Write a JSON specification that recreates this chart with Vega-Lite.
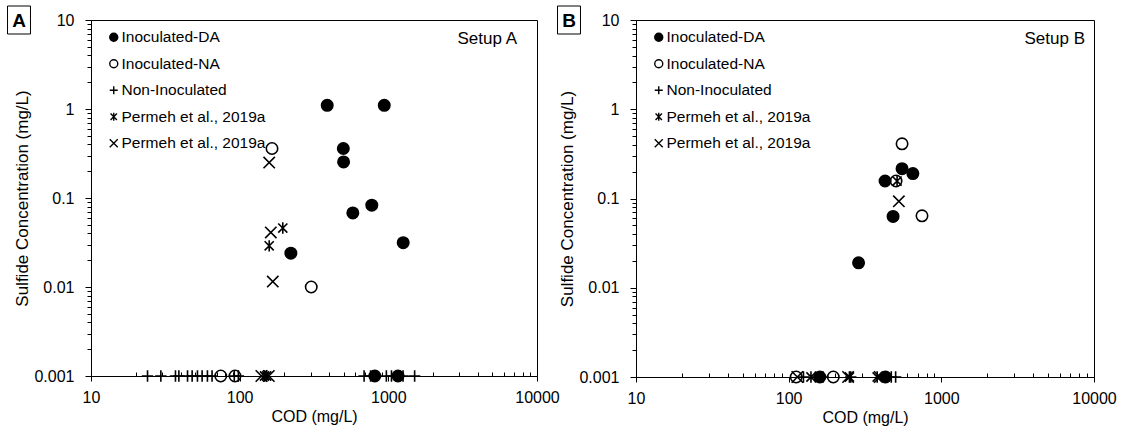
{
"$schema": "https://vega.github.io/schema/vega-lite/v6.json",
"background": "white",
"padding": {"left": 5, "top": 3, "right": 5, "bottom": 5},
"config": {
  "font": "Liberation Sans",
  "view": {"stroke": "black", "strokeWidth": 1},
  "axis": {"grid": false, "domainColor": "black", "tickColor": "black", "labelColor": "black", "titleColor": "black", "labelFont": "Liberation Sans", "titleFont": "Liberation Sans", "labelFontSize": 16, "titleFontSize": 16, "titleFontWeight": "normal", "labelOverlap": false, "labelFlush": false},
  "axisY": {"titleFontSize": 17},
  "legend": {"orient": "none", "title": null, "padding": 0, "symbolSize": 64, "symbolStrokeWidth": 1.4, "labelFont": "Liberation Sans", "labelFontSize": 15.5, "labelColor": "black", "rowPadding": 9.5, "labelOffset": 0, "labelLimit": 300},
  "text": {"font": "Liberation Sans", "color": "black"}
},
"datasets": {
  "pts": [
    {"panel": "A", "series": "Inoculated-DA", "cod": 388, "sulfide": 1.1},
    {"panel": "A", "series": "Inoculated-DA", "cod": 939, "sulfide": 1.1},
    {"panel": "A", "series": "Inoculated-DA", "cod": 498, "sulfide": 0.36},
    {"panel": "A", "series": "Inoculated-DA", "cod": 500, "sulfide": 0.254},
    {"panel": "A", "series": "Inoculated-DA", "cod": 774, "sulfide": 0.083},
    {"panel": "A", "series": "Inoculated-DA", "cod": 577, "sulfide": 0.068},
    {"panel": "A", "series": "Inoculated-DA", "cod": 221, "sulfide": 0.024},
    {"panel": "A", "series": "Inoculated-DA", "cod": 1259, "sulfide": 0.0315},
    {"panel": "A", "series": "Inoculated-DA", "cod": 811, "sulfide": 0.001},
    {"panel": "A", "series": "Inoculated-DA", "cod": 1161, "sulfide": 0.001},
    {"panel": "A", "series": "Inoculated-NA", "cod": 165, "sulfide": 0.36},
    {"panel": "A", "series": "Inoculated-NA", "cod": 303, "sulfide": 0.01},
    {"panel": "A", "series": "Inoculated-NA", "cod": 74.6, "sulfide": 0.001},
    {"panel": "A", "series": "Inoculated-NA", "cod": 93, "sulfide": 0.001},
    {"panel": "A", "series": "Non-Inoculated", "cod": 24, "sulfide": 0.001},
    {"panel": "A", "series": "Non-Inoculated", "cod": 29.5, "sulfide": 0.001},
    {"panel": "A", "series": "Non-Inoculated", "cod": 37, "sulfide": 0.001},
    {"panel": "A", "series": "Non-Inoculated", "cod": 39, "sulfide": 0.001},
    {"panel": "A", "series": "Non-Inoculated", "cod": 44.6, "sulfide": 0.001},
    {"panel": "A", "series": "Non-Inoculated", "cod": 47.9, "sulfide": 0.001},
    {"panel": "A", "series": "Non-Inoculated", "cod": 52, "sulfide": 0.001},
    {"panel": "A", "series": "Non-Inoculated", "cod": 55.9, "sulfide": 0.001},
    {"panel": "A", "series": "Non-Inoculated", "cod": 60.7, "sulfide": 0.001},
    {"panel": "A", "series": "Non-Inoculated", "cod": 65.2, "sulfide": 0.001},
    {"panel": "A", "series": "Non-Inoculated", "cod": 92, "sulfide": 0.001},
    {"panel": "A", "series": "Non-Inoculated", "cod": 98, "sulfide": 0.001},
    {"panel": "A", "series": "Non-Inoculated", "cod": 687, "sulfide": 0.001},
    {"panel": "A", "series": "Non-Inoculated", "cod": 760, "sulfide": 0.001},
    {"panel": "A", "series": "Non-Inoculated", "cod": 970, "sulfide": 0.001},
    {"panel": "A", "series": "Non-Inoculated", "cod": 1050, "sulfide": 0.001},
    {"panel": "A", "series": "Non-Inoculated", "cod": 1256, "sulfide": 0.001},
    {"panel": "A", "series": "Non-Inoculated", "cod": 1503, "sulfide": 0.001},
    {"panel": "A", "series": "Permeh et al., 2019a", "cod": 195, "sulfide": 0.046},
    {"panel": "A", "series": "Permeh et al., 2019a", "cod": 158, "sulfide": 0.029},
    {"panel": "A", "series": "Permeh et al., 2019a", "cod": 147, "sulfide": 0.001},
    {"panel": "A", "series": "Permeh et al., 2019a", "cod": 152, "sulfide": 0.001},
    {"panel": "A", "series": "Permeh et al., 2019a (X)", "cod": 158, "sulfide": 0.25},
    {"panel": "A", "series": "Permeh et al., 2019a (X)", "cod": 162, "sulfide": 0.041},
    {"panel": "A", "series": "Permeh et al., 2019a (X)", "cod": 167, "sulfide": 0.0115},
    {"panel": "A", "series": "Permeh et al., 2019a (X)", "cod": 140, "sulfide": 0.001},
    {"panel": "A", "series": "Permeh et al., 2019a (X)", "cod": 157, "sulfide": 0.001},
    {"panel": "B", "series": "Inoculated-DA", "cod": 553, "sulfide": 0.216},
    {"panel": "B", "series": "Inoculated-DA", "cod": 651, "sulfide": 0.19},
    {"panel": "B", "series": "Inoculated-DA", "cod": 428, "sulfide": 0.157},
    {"panel": "B", "series": "Inoculated-DA", "cod": 483, "sulfide": 0.063},
    {"panel": "B", "series": "Inoculated-DA", "cod": 287, "sulfide": 0.019},
    {"panel": "B", "series": "Inoculated-DA", "cod": 160, "sulfide": 0.001},
    {"panel": "B", "series": "Inoculated-DA", "cod": 431, "sulfide": 0.001},
    {"panel": "B", "series": "Inoculated-NA", "cod": 553, "sulfide": 0.41},
    {"panel": "B", "series": "Inoculated-NA", "cod": 505, "sulfide": 0.157},
    {"panel": "B", "series": "Inoculated-NA", "cod": 747, "sulfide": 0.064},
    {"panel": "B", "series": "Inoculated-NA", "cod": 112, "sulfide": 0.001},
    {"panel": "B", "series": "Inoculated-NA", "cod": 196, "sulfide": 0.001},
    {"panel": "B", "series": "Non-Inoculated", "cod": 125, "sulfide": 0.001},
    {"panel": "B", "series": "Non-Inoculated", "cod": 150, "sulfide": 0.001},
    {"panel": "B", "series": "Non-Inoculated", "cod": 168, "sulfide": 0.001},
    {"panel": "B", "series": "Non-Inoculated", "cod": 255, "sulfide": 0.001},
    {"panel": "B", "series": "Non-Inoculated", "cod": 410, "sulfide": 0.001},
    {"panel": "B", "series": "Non-Inoculated", "cod": 470, "sulfide": 0.001},
    {"panel": "B", "series": "Non-Inoculated", "cod": 502, "sulfide": 0.001},
    {"panel": "B", "series": "Permeh et al., 2019a", "cod": 513, "sulfide": 0.157},
    {"panel": "B", "series": "Permeh et al., 2019a", "cod": 140, "sulfide": 0.001},
    {"panel": "B", "series": "Permeh et al., 2019a", "cod": 250, "sulfide": 0.001},
    {"panel": "B", "series": "Permeh et al., 2019a", "cod": 380, "sulfide": 0.001},
    {"panel": "B", "series": "Permeh et al., 2019a (X)", "cod": 527, "sulfide": 0.093},
    {"panel": "B", "series": "Permeh et al., 2019a (X)", "cod": 114, "sulfide": 0.001},
    {"panel": "B", "series": "Permeh et al., 2019a (X)", "cod": 245, "sulfide": 0.001},
    {"panel": "B", "series": "Permeh et al., 2019a (X)", "cod": 395, "sulfide": 0.001}
  ],
  "tags": [
    {"panel": "A", "setup": "Setup A", "tag": "A"},
    {"panel": "B", "setup": "Setup B", "tag": "B"}
  ]
},
"bounds": "flush",
"spacing": 99,
"resolve": {"scale": {"x": "independent", "y": "independent", "shape": "independent", "fill": "independent", "stroke": "independent"}, "legend": {"shape": "independent", "fill": "independent", "stroke": "independent"}},
"hconcat": [
  {
    "width": 446, "height": 356,
    "layer": [
      {
        "data": {"name": "pts"},
        "transform": [{"filter": "datum.panel == 'A'"}],
        "mark": {"type": "point", "filled": false, "strokeWidth": 1.6, "size": 130, "opacity": 1},
        "encoding": {
          "x": {"field": "cod", "type": "quantitative", "title": "COD (mg/L)",
            "scale": {"type": "log", "domain": [10, 10000], "nice": false},
            "axis": {"values": [10,20,30,40,50,60,70,80,90,100,200,300,400,500,600,700,800,900,1000,2000,3000,4000,5000,6000,7000,8000,9000,10000],
              "format": "~g", "labelExpr": "indexof([10,100,1000,10000], datum.value) >= 0 ? datum.label : ''",
              "tickSize": {"condition": {"test": "indexof([10,100,1000,10000], datum.value) >= 0", "value": 5}, "value": -4},
              "labelPadding": 8, "titlePadding": 3}},
          "y": {"field": "sulfide", "type": "quantitative", "title": "Sulfide Concentration (mg/L)",
            "scale": {"type": "log", "domain": [0.001, 10], "nice": false},
            "axis": {"values": [0.001,0.002,0.003,0.004,0.005,0.006,0.007,0.008,0.009,0.01,0.02,0.03,0.04,0.05,0.06,0.07,0.08,0.09,0.1,0.2,0.3,0.4,0.5,0.6,0.7,0.8,0.9,1,2,3,4,5,6,7,8,9,10],
              "format": "~g", "labelExpr": "indexof([0.001,0.01,0.1,1,10], datum.value) >= 0 ? datum.label : ''",
              "tickSize": {"condition": {"test": "indexof([0.001,0.01,0.1,1,10], datum.value) >= 0", "value": 6}, "value": 4},
              "labelPadding": 11, "titlePadding": 2}},
          "shape": {"field": "series", "type": "nominal",
            "scale": {"domain": ["Inoculated-DA", "Inoculated-NA", "Non-Inoculated", "Permeh et al., 2019a", "Permeh et al., 2019a (X)"],
              "range": ["circle", "circle", "M-1,0L1,0M0,-1L0,1", "M-0.8,-0.8L0.8,0.8M-0.8,0.8L0.8,-0.8M0,-1L0,1", "M-1,-1L1,1M-1,1L1,-1"]},
            "legend": {"legendX": 15, "legendY": 9.5, "labelExpr": "replace(datum.label, ' (X)', '')"}},
          "fill": {"field": "series", "type": "nominal",
            "scale": {"domain": ["Inoculated-DA", "Inoculated-NA", "Non-Inoculated", "Permeh et al., 2019a", "Permeh et al., 2019a (X)"],
              "range": ["black", "transparent", "transparent", "transparent", "transparent"]},
            "legend": {"legendX": 15, "legendY": 9.5, "labelExpr": "replace(datum.label, ' (X)', '')"}},
          "stroke": {"field": "series", "type": "nominal",
            "scale": {"domain": ["Inoculated-DA", "Inoculated-NA", "Non-Inoculated", "Permeh et al., 2019a", "Permeh et al., 2019a (X)"],
              "range": ["black", "black", "black", "black", "black"]},
            "legend": {"legendX": 15, "legendY": 9.5, "labelExpr": "replace(datum.label, ' (X)', '')"}}
        }
      },
      {
        "data": {"name": "tags"},
        "transform": [{"filter": "datum.panel == 'A'"}],
        "mark": {"type": "text", "align": "right", "baseline": "alphabetic", "dx": -20, "dy": 23.5, "fontSize": 17},
        "encoding": {"x": {"datum": 10000, "type": "quantitative"}, "y": {"datum": 10, "type": "quantitative"}, "text": {"field": "setup"}}
      },
      {
        "data": {"name": "tags"},
        "transform": [{"filter": "datum.panel == 'A'"}],
        "mark": {"type": "point", "shape": "M-0.82,-1L0.82,-1L0.82,1L-0.82,1Z", "size": 784, "filled": false, "stroke": "black", "strokeWidth": 1, "opacity": 1, "xOffset": -72, "yOffset": 0},
        "encoding": {"x": {"datum": 10, "type": "quantitative"}, "y": {"datum": 10, "type": "quantitative"}}
      },
      {
        "data": {"name": "tags"},
        "transform": [{"filter": "datum.panel == 'A'"}],
        "mark": {"type": "text", "align": "center", "baseline": "middle", "dx": -72, "dy": 1, "fontSize": 19, "fontWeight": "bold"},
        "encoding": {"x": {"datum": 10, "type": "quantitative"}, "y": {"datum": 10, "type": "quantitative"}, "text": {"field": "tag"}}
      }
    ]
  },
  {
    "width": 458, "height": 357,
    "layer": [
      {
        "data": {"name": "pts"},
        "transform": [{"filter": "datum.panel == 'B'"}],
        "mark": {"type": "point", "filled": false, "strokeWidth": 1.6, "size": 130, "opacity": 1},
        "encoding": {
          "x": {"field": "cod", "type": "quantitative", "title": "COD (mg/L)",
            "scale": {"type": "log", "domain": [10, 10000], "nice": false},
            "axis": {"values": [10,20,30,40,50,60,70,80,90,100,200,300,400,500,600,700,800,900,1000,2000,3000,4000,5000,6000,7000,8000,9000,10000],
              "format": "~g", "labelExpr": "indexof([10,100,1000,10000], datum.value) >= 0 ? datum.label : ''",
              "tickSize": {"condition": {"test": "indexof([10,100,1000,10000], datum.value) >= 0", "value": 5}, "value": -4},
              "labelPadding": 8, "titlePadding": 3}},
          "y": {"field": "sulfide", "type": "quantitative", "title": "Sulfide Concentration (mg/L)",
            "scale": {"type": "log", "domain": [0.001, 10], "nice": false},
            "axis": {"values": [0.001,0.002,0.003,0.004,0.005,0.006,0.007,0.008,0.009,0.01,0.02,0.03,0.04,0.05,0.06,0.07,0.08,0.09,0.1,0.2,0.3,0.4,0.5,0.6,0.7,0.8,0.9,1,2,3,4,5,6,7,8,9,10],
              "format": "~g", "labelExpr": "indexof([0.001,0.01,0.1,1,10], datum.value) >= 0 ? datum.label : ''",
              "tickSize": {"condition": {"test": "indexof([0.001,0.01,0.1,1,10], datum.value) >= 0", "value": 6}, "value": 4},
              "labelPadding": 11, "titlePadding": 2}},
          "shape": {"field": "series", "type": "nominal",
            "scale": {"domain": ["Inoculated-DA", "Inoculated-NA", "Non-Inoculated", "Permeh et al., 2019a", "Permeh et al., 2019a (X)"],
              "range": ["circle", "circle", "M-1,0L1,0M0,-1L0,1", "M-0.8,-0.8L0.8,0.8M-0.8,0.8L0.8,-0.8M0,-1L0,1", "M-1,-1L1,1M-1,1L1,-1"]},
            "legend": {"legendX": 15, "legendY": 9.5, "labelExpr": "replace(datum.label, ' (X)', '')"}},
          "fill": {"field": "series", "type": "nominal",
            "scale": {"domain": ["Inoculated-DA", "Inoculated-NA", "Non-Inoculated", "Permeh et al., 2019a", "Permeh et al., 2019a (X)"],
              "range": ["black", "transparent", "transparent", "transparent", "transparent"]},
            "legend": {"legendX": 15, "legendY": 9.5, "labelExpr": "replace(datum.label, ' (X)', '')"}},
          "stroke": {"field": "series", "type": "nominal",
            "scale": {"domain": ["Inoculated-DA", "Inoculated-NA", "Non-Inoculated", "Permeh et al., 2019a", "Permeh et al., 2019a (X)"],
              "range": ["black", "black", "black", "black", "black"]},
            "legend": {"legendX": 15, "legendY": 9.5, "labelExpr": "replace(datum.label, ' (X)', '')"}}
        }
      },
      {
        "data": {"name": "tags"},
        "transform": [{"filter": "datum.panel == 'B'"}],
        "mark": {"type": "text", "align": "right", "baseline": "alphabetic", "dx": -9, "dy": 23.5, "fontSize": 17},
        "encoding": {"x": {"datum": 10000, "type": "quantitative"}, "y": {"datum": 10, "type": "quantitative"}, "text": {"field": "setup"}}
      },
      {
        "data": {"name": "tags"},
        "transform": [{"filter": "datum.panel == 'B'"}],
        "mark": {"type": "point", "shape": "M-0.82,-1L0.82,-1L0.82,1L-0.82,1Z", "size": 784, "filled": false, "stroke": "black", "strokeWidth": 1, "opacity": 1, "xOffset": -67, "yOffset": 0},
        "encoding": {"x": {"datum": 10, "type": "quantitative"}, "y": {"datum": 10, "type": "quantitative"}}
      },
      {
        "data": {"name": "tags"},
        "transform": [{"filter": "datum.panel == 'B'"}],
        "mark": {"type": "text", "align": "center", "baseline": "middle", "dx": -67, "dy": 1, "fontSize": 19, "fontWeight": "bold"},
        "encoding": {"x": {"datum": 10, "type": "quantitative"}, "y": {"datum": 10, "type": "quantitative"}, "text": {"field": "tag"}}
      }
    ]
  }
]
}
